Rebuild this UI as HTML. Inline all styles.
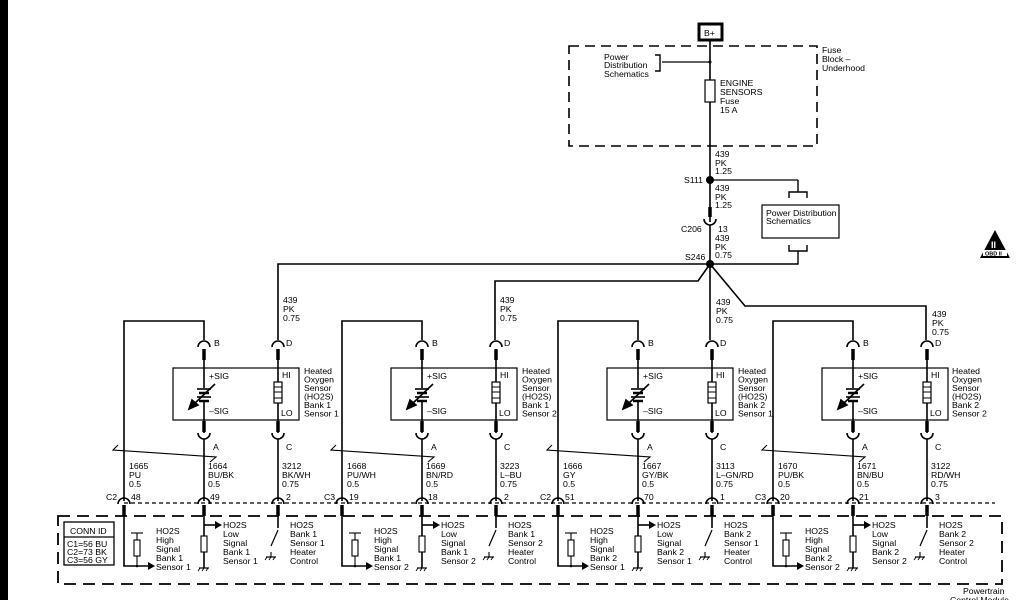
<!DOCTYPE html>
<html><head><meta charset="utf-8"><style>
html,body{margin:0;padding:0;background:#fff;width:1024px;height:600px;overflow:hidden}
svg{display:block}
text{font-family:"Liberation Sans",Arial,sans-serif;font-size:8.7px;fill:#000}
</style></head><body>
<svg width="1024" height="600" viewBox="0 0 1024 600" xmlns="http://www.w3.org/2000/svg">
<defs>
<g id="grp" fill="none" stroke="#000" stroke-width="1.6">
  <path d="M0,501 V321 H80 V340"/>
  <path d="M74,347 a6,6 0 0 1 12,0"/>
  <line x1="80" y1="349" x2="80" y2="360" stroke-width="3.5"/>
  <line x1="80" y1="360" x2="80" y2="388"/>
  <path d="M148,347 a6,6 0 0 1 12,0"/>
  <line x1="154" y1="349" x2="154" y2="360" stroke-width="3.5"/>
  <line x1="154" y1="360" x2="154" y2="382"/>
  <rect x="49" y="368" width="126" height="52" stroke-width="1.2"/>
  <line x1="73" y1="389" x2="87" y2="389"/>
  <line x1="75" y1="393" x2="85" y2="393" stroke-width="2.5"/>
  <line x1="73" y1="397" x2="87" y2="397"/>
  <line x1="75" y1="401" x2="85" y2="401" stroke-width="2.5"/>
  <line x1="80" y1="401" x2="80" y2="433"/>
  <line x1="91" y1="384" x2="70" y2="404"/>
  <path d="M65,409 L68,400 L74,405 Z" fill="#000"/>
  <rect x="150" y="382" width="8" height="21" stroke-width="1.2"/>
  <line x1="150" y1="387" x2="158" y2="387" stroke-width="1"/>
  <line x1="150" y1="392" x2="158" y2="392" stroke-width="1"/>
  <line x1="150" y1="398" x2="158" y2="398" stroke-width="1"/>
  <line x1="154" y1="403" x2="154" y2="433"/>
  <line x1="80" y1="421" x2="80" y2="432" stroke-width="3.5"/>
  <path d="M74,433 a6,6 0 0 0 12,0"/>
  <line x1="80" y1="439" x2="80" y2="501"/>
  <line x1="154" y1="421" x2="154" y2="432" stroke-width="3.5"/>
  <path d="M148,433 a6,6 0 0 0 12,0"/>
  <line x1="154" y1="439" x2="154" y2="501"/>
  <path d="M-6,445 L-11,450 L92,457 L86,462" stroke-width="1.1"/>
  <path d="M-6,504 a6,6 0 0 1 12,0"/>
  <path d="M74,504 a6,6 0 0 1 12,0"/>
  <path d="M148,504 a6,6 0 0 1 12,0"/>
  <line x1="0" y1="505" x2="0" y2="516" stroke-width="3.5"/>
  <line x1="80" y1="505" x2="80" y2="516" stroke-width="3.5"/>
  <line x1="154" y1="505" x2="154" y2="516" stroke-width="3.5"/>
  <path d="M0,516 V566 H24"/>
  <path d="M24,562 L31,566 L24,570 Z" fill="#000" stroke="none"/>
  <line x1="13" y1="533" x2="13" y2="566" stroke-width="1.1"/>
  <line x1="7" y1="533" x2="19" y2="533" stroke-width="1.1"/>
  <rect x="10" y="540" width="6" height="16" fill="#fff" stroke-width="1.1"/>
  <circle cx="13" cy="566" r="1.3" fill="#000" stroke="none"/>
  <line x1="80" y1="516" x2="80" y2="568"/>
  <line x1="80" y1="525" x2="91" y2="525"/>
  <path d="M91,521 L98,525 L91,529 Z" fill="#000" stroke="none"/>
  <rect x="77" y="536" width="6" height="16" fill="#fff" stroke-width="1.1"/>
  <line x1="75" y1="568" x2="85" y2="568" stroke-width="1.2"/>
  <path d="M76,568 l-2,3 M80,568 l-2,3 M84,568 l-2,3" stroke-width="0.9"/>
  <line x1="154" y1="516" x2="154" y2="528"/>
  <line x1="154" y1="530" x2="147" y2="546" stroke-width="1.2"/>
  <line x1="147" y1="552" x2="147" y2="557" stroke-width="1.1"/>
  <line x1="142" y1="557" x2="152" y2="557" stroke-width="1.2"/>
  <path d="M143,557 l-2,3 M147,557 l-2,3 M151,557 l-2,3" stroke-width="0.9"/>
</g>
</defs>

<rect x="0" y="0" width="8" height="600" fill="#000"/>

<g fill="none" stroke="#000" stroke-width="1.6">
  <rect x="699" y="24" width="23" height="16" stroke-width="3"/>
  <rect x="569" y="46" width="248" height="100" stroke-dasharray="10,6" stroke-width="1.6"/>
  <line x1="710" y1="40" x2="710" y2="222"/>
  <line x1="662" y1="62" x2="710" y2="62" stroke-width="1.2"/>
  <path d="M655,55 H660 V71 H655" stroke-width="1.4"/>
  <rect x="705" y="80" width="10" height="22" fill="#fff" stroke-width="1.2"/>
  <line x1="710" y1="180" x2="798" y2="180" stroke-width="1.2"/>
  <path d="M798,180 V192 M789,198 V192 H807 V198" stroke-width="1.4"/>
  <rect x="762" y="205" width="77" height="33" stroke-width="1.2"/>
  <path d="M789,245 V251 H807 V245 M798,251 V264 H710" stroke-width="1.4"/>
  <line x1="710" y1="207" x2="710" y2="217" stroke-width="3.5"/>
  <path d="M704,219 a6,6 0 0 0 12,0"/>
  <line x1="710" y1="225" x2="710" y2="340"/>
  <path d="M710,264 H278 V340"/>
  <path d="M710,264 L698,281 H495 V340"/>
  <path d="M710,264 L745,306 H926 V340"/>
  <line x1="124" y1="503" x2="995" y2="503" stroke-dasharray="4,3" stroke-width="1.2"/>
  <path d="M58,516 H1002 V584 H58 Z" stroke-dasharray="12,7" stroke-width="1.8"/>
  <rect x="64" y="522" width="50" height="43" stroke-width="1.3"/>
  <line x1="64" y1="537" x2="114" y2="537" stroke-width="1.2"/>
</g>
<circle cx="710" cy="62" r="1.5"/>
<circle cx="710" cy="180" r="4"/>
<circle cx="710" cy="264" r="4"/>
<text x="704" y="36">B+</text>
<text x="604" y="60">Power</text><text x="604" y="68">Distribution</text><text x="604" y="77">Schematics</text>
<text x="720" y="86">ENGINE</text><text x="720" y="95">SENSORS</text><text x="720" y="104">Fuse</text><text x="720" y="113">15 A</text>
<text x="822" y="53">Fuse</text><text x="822" y="62">Block –</text><text x="822" y="71">Underhood</text>
<text x="715" y="157">439</text><text x="715" y="166">PK</text><text x="715" y="174">1.25</text>
<text x="684" y="183">S111</text>
<text x="715" y="191">439</text><text x="715" y="200">PK</text><text x="715" y="208">1.25</text>
<text x="766" y="216">Power Distribution</text><text x="766" y="224">Schematics</text>
<text x="681" y="232">C206</text><text x="718" y="232">13</text>
<text x="715" y="241">439</text><text x="715" y="250">PK</text><text x="715" y="258">0.75</text>
<text x="685" y="260">S246</text>
<text x="283" y="303">439</text><text x="283" y="312">PK</text><text x="283" y="321">0.75</text>
<text x="500" y="303">439</text><text x="500" y="312">PK</text><text x="500" y="321">0.75</text>
<text x="716" y="305">439</text><text x="716" y="314">PK</text><text x="716" y="323">0.75</text>
<text x="932" y="317">439</text><text x="932" y="326">PK</text><text x="932" y="335">0.75</text>

<path d="M980,258 L995,230 L1010,258 Z" fill="#000"/>
<rect x="983" y="250" width="24" height="6" fill="#fff"/>
<text x="985" y="255.5" style="font-size:5.5px;font-weight:bold">OBD II</text>
<text x="991" y="248" style="font-size:9px;fill:#fff;font-weight:bold">II</text>

<text x="70" y="534">CONN ID</text>
<text x="67" y="547">C1=56 BU</text><text x="67" y="555">C2=73 BK</text><text x="67" y="563">C3=56 GY</text>
<text x="963" y="594">Powertrain</text><text x="950" y="603">Control Module</text>

<use href="#grp" x="124"/>
<use href="#grp" x="342"/>
<use href="#grp" x="558"/>
<use href="#grp" x="773"/>

<g>
<text x="214" y="346">B</text><text x="286" y="346">D</text>
<text x="209" y="379">+SIG</text><text x="209" y="414">–SIG</text>
<text x="282" y="378">HI</text><text x="281" y="416">LO</text>
<text x="304" y="374">Heated</text><text x="304" y="382.5">Oxygen</text><text x="304" y="391">Sensor</text><text x="304" y="399.5">(HO2S)</text><text x="304" y="408">Bank 1</text><text x="304" y="416.5">Sensor 1</text>
<text x="213" y="450">A</text><text x="286" y="450">C</text>
<text x="129" y="469">1665</text><text x="129" y="478">PU</text><text x="129" y="487">0.5</text>
<text x="208" y="469">1664</text><text x="208" y="478">BU/BK</text><text x="208" y="487">0.5</text>
<text x="282" y="469">3212</text><text x="282" y="478">BK/WH</text><text x="282" y="487">0.75</text>
<text x="106" y="500">C2</text><text x="131" y="500">48</text><text x="210" y="500">49</text><text x="286" y="500">2</text>
<text x="156" y="534">HO2S</text><text x="156" y="543">High</text><text x="156" y="552">Signal</text><text x="156" y="561">Bank 1</text><text x="156" y="570">Sensor 1</text>
<text x="223" y="528">HO2S</text><text x="223" y="537">Low</text><text x="223" y="546">Signal</text><text x="223" y="555">Bank 1</text><text x="223" y="564">Sensor 1</text>
<text x="290" y="528">HO2S</text><text x="290" y="537">Bank 1</text><text x="290" y="546">Sensor 1</text><text x="290" y="555">Heater</text><text x="290" y="564">Control</text>
</g>
<g>
<text x="432" y="346">B</text><text x="504" y="346">D</text>
<text x="427" y="379">+SIG</text><text x="427" y="414">–SIG</text>
<text x="500" y="378">HI</text><text x="499" y="416">LO</text>
<text x="522" y="374">Heated</text><text x="522" y="382.5">Oxygen</text><text x="522" y="391">Sensor</text><text x="522" y="399.5">(HO2S)</text><text x="522" y="408">Bank 1</text><text x="522" y="416.5">Sensor 2</text>
<text x="431" y="450">A</text><text x="504" y="450">C</text>
<text x="347" y="469">1668</text><text x="347" y="478">PU/WH</text><text x="347" y="487">0.5</text>
<text x="426" y="469">1669</text><text x="426" y="478">BN/RD</text><text x="426" y="487">0.5</text>
<text x="500" y="469">3223</text><text x="500" y="478">L–BU</text><text x="500" y="487">0.75</text>
<text x="324" y="500">C3</text><text x="349" y="500">19</text><text x="428" y="500">18</text><text x="504" y="500">2</text>
<text x="374" y="534">HO2S</text><text x="374" y="543">High</text><text x="374" y="552">Signal</text><text x="374" y="561">Bank 1</text><text x="374" y="570">Sensor 2</text>
<text x="441" y="528">HO2S</text><text x="441" y="537">Low</text><text x="441" y="546">Signal</text><text x="441" y="555">Bank 1</text><text x="441" y="564">Sensor 2</text>
<text x="508" y="528">HO2S</text><text x="508" y="537">Bank 1</text><text x="508" y="546">Sensor 2</text><text x="508" y="555">Heater</text><text x="508" y="564">Control</text>
</g>
<g>
<text x="648" y="346">B</text><text x="720" y="346">D</text>
<text x="643" y="379">+SIG</text><text x="643" y="414">–SIG</text>
<text x="716" y="378">HI</text><text x="715" y="416">LO</text>
<text x="738" y="374">Heated</text><text x="738" y="382.5">Oxygen</text><text x="738" y="391">Sensor</text><text x="738" y="399.5">(HO2S)</text><text x="738" y="408">Bank 2</text><text x="738" y="416.5">Sensor 1</text>
<text x="647" y="450">A</text><text x="720" y="450">C</text>
<text x="563" y="469">1666</text><text x="563" y="478">GY</text><text x="563" y="487">0.5</text>
<text x="642" y="469">1667</text><text x="642" y="478">GY/BK</text><text x="642" y="487">0.5</text>
<text x="716" y="469">3113</text><text x="716" y="478">L–GN/RD</text><text x="716" y="487">0.75</text>
<text x="540" y="500">C2</text><text x="565" y="500">51</text><text x="644" y="500">70</text><text x="720" y="500">1</text>
<text x="590" y="534">HO2S</text><text x="590" y="543">High</text><text x="590" y="552">Signal</text><text x="590" y="561">Bank 2</text><text x="590" y="570">Sensor 1</text>
<text x="657" y="528">HO2S</text><text x="657" y="537">Low</text><text x="657" y="546">Signal</text><text x="657" y="555">Bank 2</text><text x="657" y="564">Sensor 1</text>
<text x="724" y="528">HO2S</text><text x="724" y="537">Bank 2</text><text x="724" y="546">Sensor 1</text><text x="724" y="555">Heater</text><text x="724" y="564">Control</text>
</g>
<g>
<text x="863" y="346">B</text><text x="935" y="346">D</text>
<text x="858" y="379">+SIG</text><text x="858" y="414">–SIG</text>
<text x="931" y="378">HI</text><text x="930" y="416">LO</text>
<text x="952" y="374">Heated</text><text x="952" y="382.5">Oxygen</text><text x="952" y="391">Sensor</text><text x="952" y="399.5">(HO2S)</text><text x="952" y="408">Bank 2</text><text x="952" y="416.5">Sensor 2</text>
<text x="862" y="450">A</text><text x="935" y="450">C</text>
<text x="778" y="469">1670</text><text x="778" y="478">PU/BK</text><text x="778" y="487">0.5</text>
<text x="857" y="469">1671</text><text x="857" y="478">BN/BU</text><text x="857" y="487">0.5</text>
<text x="931" y="469">3122</text><text x="931" y="478">RD/WH</text><text x="931" y="487">0.75</text>
<text x="755" y="500">C3</text><text x="780" y="500">20</text><text x="859" y="500">21</text><text x="935" y="500">3</text>
<text x="805" y="534">HO2S</text><text x="805" y="543">High</text><text x="805" y="552">Signal</text><text x="805" y="561">Bank 2</text><text x="805" y="570">Sensor 2</text>
<text x="872" y="528">HO2S</text><text x="872" y="537">Low</text><text x="872" y="546">Signal</text><text x="872" y="555">Bank 2</text><text x="872" y="564">Sensor 2</text>
<text x="939" y="528">HO2S</text><text x="939" y="537">Bank 2</text><text x="939" y="546">Sensor 2</text><text x="939" y="555">Heater</text><text x="939" y="564">Control</text>
</g>
</svg>
</body></html>
